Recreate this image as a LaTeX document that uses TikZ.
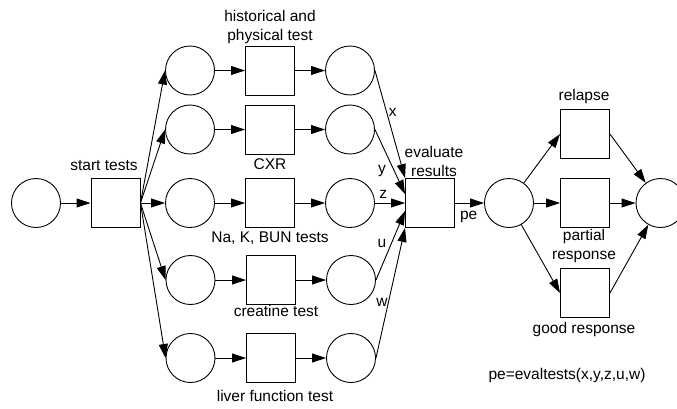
\documentclass[tikz,border=0pt]{standalone}
\usepackage{fontspec}
\setmainfont{Liberation Sans}
\usetikzlibrary{arrows.meta}
\begin{document}
\begin{tikzpicture}[x=1pt,y=-1pt,
  place/.style={draw,circle,minimum size=49pt,inner sep=0,line width=0.9pt},
  trans/.style={draw,rectangle,minimum size=49pt,inner sep=0,line width=0.9pt},
  arc/.style={line width=0.9pt,-{Triangle[length=14pt,width=9pt]}},
  lbl/.style={font=\fontsize{15.5}{18.5}\selectfont,inner sep=0,anchor=base,align=center}]
\useasboundingbox (0,0) rectangle (677,408);
\clip (0,0) rectangle (677,408);
% places and transitions
\node[place] (p0) at (36,203) {};
\node[trans] (st) at (115.5,203) {};
\node[place] (a1) at (190,70.5) {};
\node[place] (a2) at (190,129.5) {};
\node[place] (a3) at (190,203) {};
\node[place] (a4) at (190.5,280) {};
\node[place] (a5) at (190.5,358) {};
\node[trans] (t1) at (270,70.5) {};
\node[trans] (t2) at (270,129.5) {};
\node[trans] (t3) at (270,203) {};
\node[trans] (t4) at (271,280) {};
\node[trans] (t5) at (271,358) {};
\node[place] (b1) at (350,70.5) {};
\node[place] (b2) at (350,129.5) {};
\node[place] (b3) at (350,203) {};
\node[place] (b4) at (351,280) {};
\node[place] (b5) at (351,358) {};
\node[trans] (ev) at (430,203) {};
\node[place] (pp) at (509,203) {};
\node[trans] (r1) at (585,134) {};
\node[trans] (r2) at (585,203) {};
\node[trans] (r3) at (585,293) {};
\node[place] (fin) at (660.5,203) {};
% arcs
\draw[arc] (p0) -- (st);
\foreach \i in {1,...,5}{
  \draw[arc] (st.east) -- (a\i.west);
  \draw[arc] (a\i) -- (t\i);
  \draw[arc] (t\i) -- (b\i);
}
\draw[arc] (b1.east) -- (ev.north west);
\draw[arc] (b2.east) -- ([yshift=-16pt]ev.north west);
\draw[arc] (b3.east) -- (ev.west);
\draw[arc] (b4.east) -- ([yshift=-8pt]ev.west);
\draw[arc] (b5.east) -- (ev.south west);
\draw[arc] (ev) -- (pp);
\draw[arc] (pp) -- (r1.west);
\draw[arc] (pp) -- (r2);
\draw[arc] (pp) -- (r3.west);
\draw[arc] (r1.east) -- (fin);
\draw[arc] (r2) -- (fin);
\draw[arc] (r3.east) -- (fin);
% labels
\node[lbl] (l1) at (270,40) {historical and\\physical test};
\node[lbl] (l0) at (104,170) {start tests};
\node[lbl] (l2) at (270,169.3) {CXR};
\node[lbl] (l3) at (270,242.3) {Na, K, BUN tests};
\node[lbl] (l4) at (276,316.7) {creatine test};
\node[lbl] (l5) at (275,401.3) {liver function test};
\node[lbl] (le) at (434,176) {evaluate\\results};
\node[lbl] (lr1) at (584,100) {relapse};
\node[lbl] (lr2) at (584,259) {partial\\response};
\node[lbl] (lr3) at (584,333.3) {good response};
\node[lbl] (lf) at (567,379) {pe=evaltests(x,y,z,u,w)};
\node[lbl] (lx) at (392.7,116.7) {x};
\node[lbl] (ly) at (382,173.3) {y};
\node[lbl] (lz) at (383.3,198.3) {z};
\node[lbl] (lu) at (382,247.3) {u};
\node[lbl] (lw) at (382,306.7) {w};
\node[lbl] (lpe) at (468.7,219) {pe};
\end{tikzpicture}
\end{document}
